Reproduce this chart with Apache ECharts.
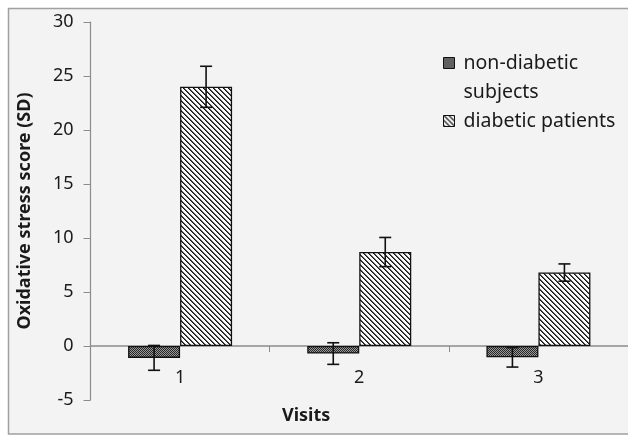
<!DOCTYPE html>
<html><head><meta charset="utf-8">
<script src="https://cdn.jsdelivr.net/npm/echarts@6/dist/echarts.min.js"></script>
<style>html,body{margin:0;padding:0;background:#fff}#c{width:628px;height:436px}</style>
</head><body><div id="c"></div>
<script>
const categories = ['1', '2', '3'];
const nonDiabetic = [-1.1, -0.7, -1.05];
const nonDiabeticErr = [1.15, 1.0, 0.9];
const diabetic = [24.0, 8.7, 6.8];
const diabeticErr = [1.9, 1.35, 0.8];
const yTicks = [-5, 0, 5, 10, 15, 20, 25, 30];
const seriesNames = ['non-diabetic subjects', 'diabetic patients'];

function makeChecker() {
  const c = document.createElement('canvas'); c.width = 2; c.height = 2;
  const g = c.getContext('2d');
  g.fillStyle = '#9a9a9a'; g.fillRect(0, 0, 2, 2);
  g.fillStyle = '#262626'; g.fillRect(0, 0, 1, 1); g.fillRect(1, 1, 1, 1);
  return c;
}
function makeHatch() {
  const s = 5;
  const c = document.createElement('canvas'); c.width = s; c.height = s;
  const g = c.getContext('2d');
  const img = g.createImageData(s, s);
  for (let y = 0; y < s; y++) for (let x = 0; x < s; x++) {
    const d = ((x - y) % s + s) % s;
    const v = d === 0 ? 20 : (d === 1 ? 90 : 250);
    const i = (y * s + x) * 4;
    img.data[i] = v; img.data[i + 1] = v; img.data[i + 2] = v; img.data[i + 3] = 255;
  }
  g.putImageData(img, 0, 0);
  return c;
}
const checker = { image: makeChecker(), repeat: 'repeat' };
const hatch = { image: makeHatch(), repeat: 'repeat' };

const barW = 52;
const chart = echarts.init(document.getElementById('c'));
function errSeries(vals, errs, offset) {
  return {
    type: 'custom', z: 10, silent: true,
    data: vals.map((v, i) => [i, v, errs[i]]),
    renderItem: function (params, api) {
      const i = api.value(0), m = api.value(1), e = api.value(2);
      const x = api.coord([i, m])[0] + offset;
      const yt = api.coord([i, m + e])[1];
      const yb = api.coord([i, m - e])[1];
      const cap = 6;
      const st = { stroke: '#111', lineWidth: 1.6, fill: null };
      return { type: 'group', children: [
        { type: 'line', shape: { x1: x, y1: yt, x2: x, y2: yb }, style: st },
        { type: 'line', shape: { x1: x - cap, y1: yt, x2: x + cap, y2: yt }, style: st },
        { type: 'line', shape: { x1: x - cap, y1: yb, x2: x + cap, y2: yb }, style: st }
      ]};
    }
  };
}
const font = '"Noto Sans", "DejaVu Sans", sans-serif';
chart.setOption({
  animation: false,
  backgroundColor: '#fff',
  graphic: [
    { type: 'rect', z: -10, shape: { x: 8.5, y: 8.5, width: 640, height: 425.5 },
      style: { fill: '#f3f3f3', stroke: '#a0a0a0', lineWidth: 1.5 } },
    { type: 'text', left: 282, top: 407, z: 5,
      style: { text: 'Visits', font: 'bold 18px ' + font, fill: '#1a1a1a' } }
  ],
  grid: { left: 90.5, right: -5.5, top: 22, bottom: 36 },
  legend: {
    orient: 'vertical', left: 443, top: 19.5, padding: 0, itemGap: 0,
    itemWidth: 11, itemHeight: 11, icon: 'rect',
    data: seriesNames,
    formatter: function (n) { return n === seriesNames[0] ? '\nnon-diabetic\nsubjects' : n; },
    textStyle: { fontFamily: font, fontSize: 19.5, lineHeight: 29, color: '#1a1a1a', padding: [0, 0, 0, 4] },
    itemStyle: { borderColor: '#111', borderWidth: 1 }
  },
  xAxis: [{
    type: 'category', data: categories,
    axisLine: { onZero: true, lineStyle: { color: '#8c8c8c', width: 1.5 } },
    axisTick: { show: true, length: 6, lineStyle: { color: '#8c8c8c' } },
    axisLabel: { show: false }
  }, {
    type: 'category', data: categories, position: 'bottom', offset: -54,
    axisLine: { show: false, onZero: false }, axisTick: { show: false },
    axisLabel: { fontFamily: font, fontSize: 18, color: '#1a1a1a', margin: 23 }
  }],
  yAxis: {
    type: 'value', min: yTicks[0], max: yTicks[yTicks.length - 1], interval: 5,
    name: 'Oxidative stress score (SD)', nameLocation: 'middle', nameGap: 57,
    nameTextStyle: { fontFamily: font, fontSize: 18, fontWeight: 'bold', color: '#1a1a1a' },
    axisLine: { show: true, lineStyle: { color: '#8c8c8c', width: 1.2 } },
    axisTick: { show: true, length: 7, lineStyle: { color: '#8c8c8c' } },
    splitLine: { show: false },
    axisLabel: { fontFamily: font, fontSize: 18, color: '#1a1a1a', margin: 17 }
  },
  series: [
    { name: seriesNames[0], type: 'bar', data: nonDiabetic, barWidth: barW, barGap: 0,
      itemStyle: { color: checker, borderColor: '#111', borderWidth: 1.3 } },
    { name: seriesNames[1], type: 'bar', data: diabetic, barWidth: barW, barGap: 0,
      itemStyle: { color: hatch, borderColor: '#111', borderWidth: 1.3 } },
    errSeries(nonDiabetic, nonDiabeticErr, -barW / 2),
    errSeries(diabetic, diabeticErr, barW / 2)
  ]
});
</script></body></html>
